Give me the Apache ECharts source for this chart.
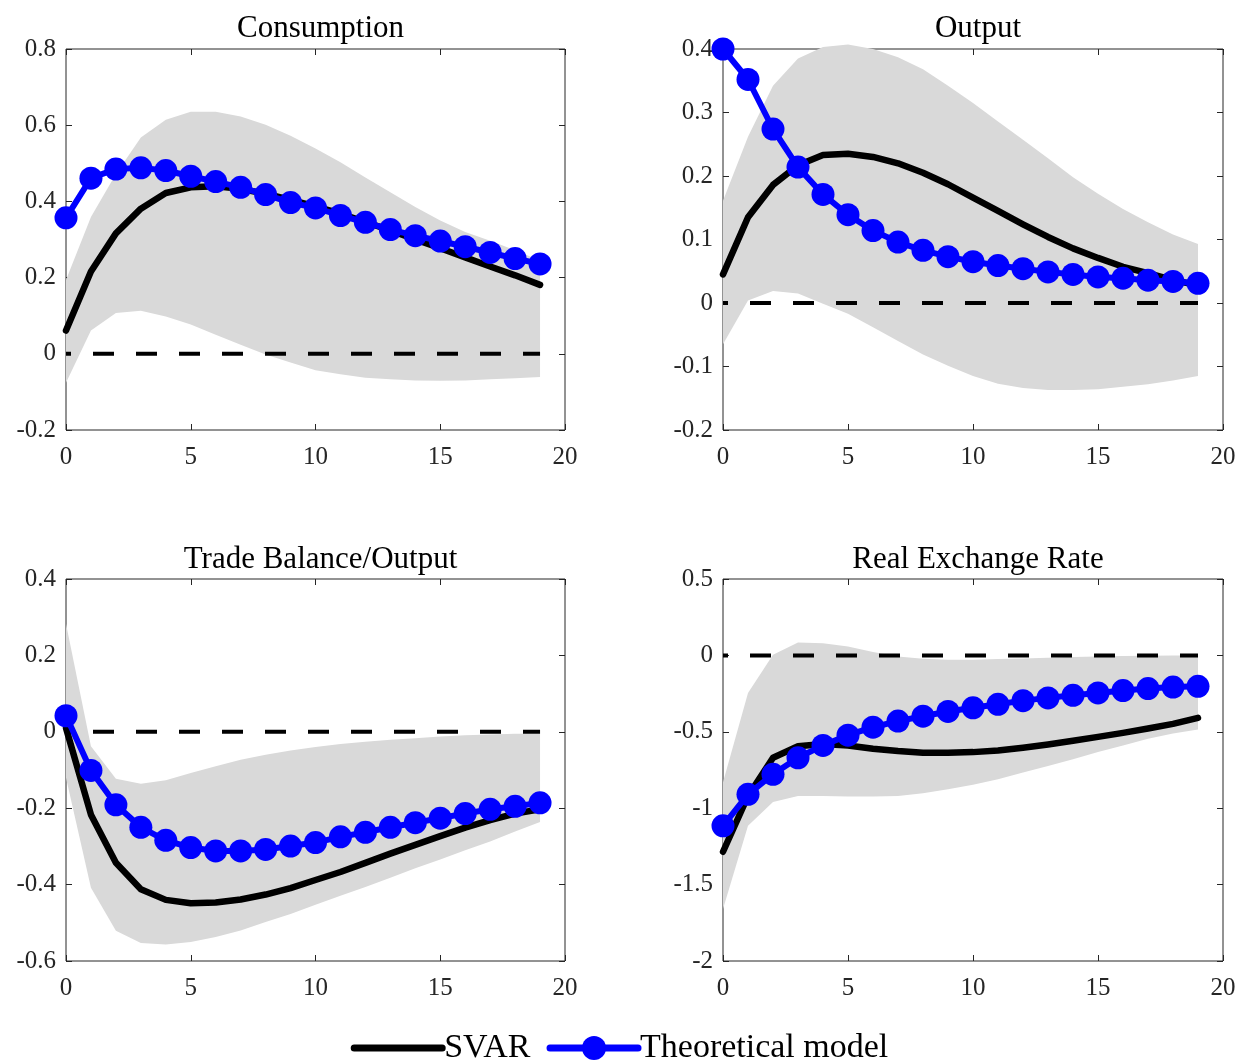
<!DOCTYPE html>
<html><head><meta charset="utf-8">
<script src="https://cdn.jsdelivr.net/npm/echarts@6/dist/echarts.min.js"></script>
<style>html,body{margin:0;padding:0;background:#fff}#c{width:1239px;height:1063px}</style>
</head><body><div id="c"></div><script>
const periods = [0,1,2,3,4,5,6,7,8,9,10,11,12,13,14,15,16,17,18,19];
const panelTitles = ['Consumption', 'Output', 'Trade Balance/Output', 'Real Exchange Rate'];
const legendNames = ['SVAR', 'Theoretical model'];
const xTicks = [0, 5, 10, 15, 20];

// Consumption
const consSvar  = [0.061,0.216,0.316,0.381,0.422,0.437,0.440,0.433,0.420,0.404,0.387,0.368,0.346,0.324,0.300,0.277,0.253,0.229,0.206,0.181];
const consModel = [0.357,0.461,0.485,0.488,0.481,0.466,0.452,0.437,0.418,0.397,0.383,0.363,0.345,0.326,0.310,0.296,0.281,0.266,0.250,0.236];
const consLow   = [-0.076,0.061,0.107,0.113,0.098,0.077,0.050,0.024,-0.002,-0.023,-0.043,-0.054,-0.063,-0.067,-0.070,-0.071,-0.070,-0.067,-0.064,-0.061];
const consHigh  = [0.194,0.359,0.472,0.568,0.614,0.635,0.635,0.623,0.601,0.572,0.539,0.503,0.463,0.424,0.385,0.350,0.320,0.297,0.272,0.245];

// Output
const outSvar  = [0.045,0.135,0.186,0.217,0.233,0.235,0.230,0.220,0.205,0.187,0.166,0.145,0.124,0.104,0.086,0.071,0.057,0.047,0.036,0.028];
const outModel = [0.400,0.352,0.274,0.214,0.171,0.139,0.114,0.096,0.083,0.073,0.065,0.059,0.054,0.049,0.045,0.041,0.039,0.036,0.034,0.031];
const outLow   = [-0.065,0.004,0.019,0.015,-0.001,-0.017,-0.038,-0.060,-0.081,-0.099,-0.115,-0.127,-0.134,-0.137,-0.137,-0.136,-0.132,-0.128,-0.122,-0.115];
const outHigh  = [0.161,0.262,0.342,0.385,0.403,0.407,0.400,0.387,0.368,0.342,0.315,0.286,0.257,0.228,0.198,0.172,0.148,0.127,0.108,0.093];

// Trade Balance / Output
const tbSvar  = [0.010,-0.217,-0.343,-0.412,-0.440,-0.449,-0.447,-0.439,-0.426,-0.409,-0.388,-0.367,-0.343,-0.319,-0.296,-0.273,-0.251,-0.231,-0.214,-0.203];
const tbModel = [0.042,-0.101,-0.191,-0.250,-0.284,-0.303,-0.312,-0.312,-0.308,-0.299,-0.290,-0.275,-0.263,-0.250,-0.238,-0.226,-0.214,-0.203,-0.195,-0.186];
const tbLow   = [-0.120,-0.408,-0.521,-0.553,-0.557,-0.550,-0.537,-0.520,-0.498,-0.477,-0.453,-0.429,-0.406,-0.382,-0.357,-0.334,-0.310,-0.287,-0.261,-0.236];
const tbHigh  = [0.283,-0.038,-0.123,-0.136,-0.127,-0.108,-0.090,-0.073,-0.060,-0.049,-0.040,-0.032,-0.026,-0.021,-0.017,-0.012,-0.009,-0.007,-0.005,-0.005];

// Real Exchange Rate
const rerSvar  = [-1.285,-0.920,-0.670,-0.595,-0.580,-0.590,-0.611,-0.626,-0.637,-0.637,-0.633,-0.622,-0.604,-0.583,-0.559,-0.533,-0.507,-0.478,-0.448,-0.409];
const rerModel = [-1.115,-0.909,-0.778,-0.670,-0.589,-0.522,-0.470,-0.430,-0.398,-0.367,-0.343,-0.320,-0.296,-0.278,-0.261,-0.246,-0.230,-0.217,-0.207,-0.202];
const rerLow   = [-1.660,-1.115,-0.959,-0.920,-0.920,-0.924,-0.924,-0.920,-0.902,-0.876,-0.846,-0.811,-0.767,-0.724,-0.680,-0.633,-0.589,-0.546,-0.511,-0.485];
const rerHigh  = [-0.830,-0.246,0.004,0.085,0.080,0.059,0.022,-0.007,-0.022,-0.028,-0.028,-0.024,-0.020,-0.015,-0.011,-0.007,-0.004,-0.002,0.000,0.000];

const zeroLineX = [0, 19];
const zeroLevel = 0;

const yMins = [-0.2, -0.2, -0.6, -2];
const yMaxs = [0.8, 0.4, 0.4, 0.5];
const yIntervals = [0.2, 0.1, 0.2, 0.5];

const panels = [
  {svar: consSvar, model: consModel, low: consLow, high: consHigh},
  {svar: outSvar, model: outModel, low: outLow, high: outHigh},
  {svar: tbSvar, model: tbModel, low: tbLow, high: tbHigh},
  {svar: rerSvar, model: rerModel, low: rerLow, high: rerHigh}
];

const FONT = 'Liberation Serif';
const AXC = '#262626';
const grids = [
  {left: 66, top: 49, width: 499, height: 381},
  {left: 723, top: 49, width: 500, height: 381},
  {left: 66, top: 579, width: 499, height: 382},
  {left: 723, top: 579, width: 500, height: 382}
];

const xAxes = [], yAxes = [], titles = [], series = [];
const tickStyle = {show: true, inside: true, length: 6, lineStyle: {color: AXC, width: 1}};
const noLine = {show: false, onZero: false};
for (let i = 0; i < 4; i++) {
  grids[i].show = true; grids[i].borderColor = AXC; grids[i].borderWidth = 1; grids[i].containLabel = false;
  xAxes.push({type: 'value', gridIndex: i, min: xTicks[0], max: xTicks[xTicks.length-1], interval: 5, position: 'bottom',
    axisLine: noLine, axisTick: tickStyle, splitLine: {show: false},
    axisLabel: {color: AXC, fontFamily: FONT, fontSize: 25, margin: 15}});
  yAxes.push({type: 'value', gridIndex: i, min: yMins[i], max: yMaxs[i], interval: yIntervals[i], position: 'left',
    axisLine: noLine, axisTick: tickStyle, splitLine: {show: false},
    axisLabel: {color: AXC, fontFamily: FONT, fontSize: 25, margin: 10}});
  titles.push({text: panelTitles[i], left: grids[i].left + grids[i].width / 2, top: i < 2 ? 8 : 539, textAlign: 'center',
    textStyle: {fontFamily: FONT, fontWeight: 'normal', fontSize: 31, color: '#000'}});
}
for (let i = 0; i < 4; i++) {
  xAxes.push({type: 'value', gridIndex: i, min: xTicks[0], max: xTicks[xTicks.length-1], interval: 5, position: 'top',
    axisLine: noLine, axisTick: tickStyle, splitLine: {show: false}, axisLabel: {show: false}});
  yAxes.push({type: 'value', gridIndex: i, min: yMins[i], max: yMaxs[i], interval: yIntervals[i], position: 'right',
    axisLine: noLine, axisTick: tickStyle, splitLine: {show: false}, axisLabel: {show: false}});
}

function bandRenderer(p) {
  return function (params, api) {
    if (params.dataIndex !== 0) return null;
    const pts = [];
    for (let k = 0; k < periods.length; k++) pts.push(api.coord([periods[k], p.high[k]]));
    for (let k = periods.length - 1; k >= 0; k--) pts.push(api.coord([periods[k], p.low[k]]));
    return {type: 'polygon', shape: {points: pts}, style: {fill: '#d9d9d9', stroke: null}};
  };
}

for (let i = 0; i < 4; i++) {
  const p = panels[i];
  series.push({type: 'custom', name: 'band' + i, xAxisIndex: i, yAxisIndex: i, silent: true, z: 1,
    data: periods.map((x, k) => [x, p.low[k], p.high[k]]), encode: {x: 0, y: [1, 2]},
    renderItem: bandRenderer(p)});
  series.push({type: 'line', name: 'zero' + i, xAxisIndex: i, yAxisIndex: i,
    data: zeroLineX.map(x => [x, zeroLevel]), symbol: 'none', silent: true, z: 2,
    lineStyle: {color: '#000', width: 4, type: [21, 22], dashOffset: 16}});
  series.push({type: 'line', name: legendNames[0], xAxisIndex: i, yAxisIndex: i,
    data: periods.map((x, k) => [x, p.svar[k]]), symbol: 'none', z: 3,
    lineStyle: {color: '#000', width: 6.5, cap: 'round', join: 'round'}, itemStyle: {color: '#000'}});
  series.push({type: 'line', name: legendNames[1], xAxisIndex: i, yAxisIndex: i, clip: false,
    data: periods.map((x, k) => [x, p.model[k]]), symbol: 'circle', symbolSize: 23, z: 4,
    lineStyle: {color: '#0000ff', width: 6, cap: 'round', join: 'round'}, itemStyle: {color: '#0000ff'}});
}

const chart = echarts.init(document.getElementById('c'), null, {renderer: 'canvas'});
chart.setOption({
  animation: false,
  backgroundColor: '#fff',
  title: titles,
  grid: grids,
  xAxis: xAxes,
  yAxis: yAxes,
  legend: {
    data: [
      {name: legendNames[0], itemStyle: {opacity: 0}, lineStyle: {color: '#000', width: 7}},
      {name: legendNames[1], lineStyle: {color: '#0000ff', width: 7}}
    ],
    left: 'center', top: 1026, itemWidth: 88, itemHeight: 30, itemGap: 16,
    textStyle: {fontFamily: FONT, fontSize: 34, color: '#000', padding: [0, 0, 0, -3]}},
  series: series
});
</script></body></html>
